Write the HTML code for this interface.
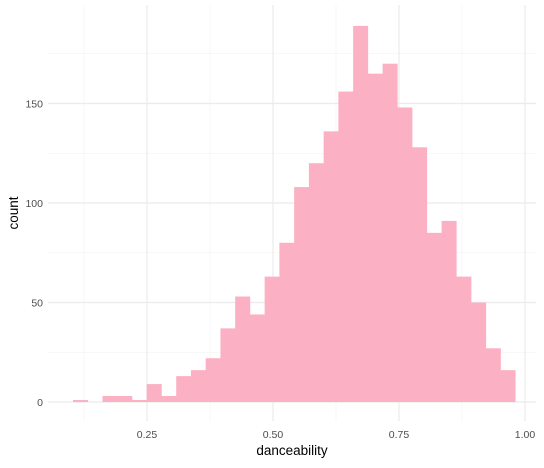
<!DOCTYPE html>
<html><head><meta charset="utf-8"><style>
body{margin:0;background:#fff;font-family:"Liberation Sans",sans-serif}
</style></head><body>
<svg id="chart" width="544" height="463" xmlns="http://www.w3.org/2000/svg" font-family="Liberation Sans, sans-serif"></svg>
<script>
const counts=[1,0,3,3,1,9,3,13,16,22,37,53,44,63,80,108,120,136,156,189,165,170,148,128,85,91,63,50,27,16];
const binStart=0.1032, binWidth=0.02925;
const xTicks=[0.25,0.5,0.75,1.0];
const xTickLabels=["0.25","0.50","0.75","1.00"];
const yTicks=[0,50,100,150];
const NS="http://www.w3.org/2000/svg";
const svg=document.getElementById('chart');
const X=v=>147+(v-0.25)*504;
const Y=v=>402-v*1.99;
const L=48,R=536,T=5,B=421;
function mk(t,a){const e=document.createElementNS(NS,t);for(const k in a)e.setAttribute(k,a[k]);svg.appendChild(e);return e;}
[0.125,0.375,0.625,0.875].forEach(v=>{const l=mk('line',{x1:X(v),x2:X(v),y1:T,y2:B,stroke:'#f2f2f2','stroke-width':0.6});
});
[25,75,125,175].forEach(v=>{const l=mk('line',{x1:L,x2:R,y1:Y(v),y2:Y(v),stroke:'#f2f2f2','stroke-width':0.6});
});
xTicks.forEach((v,i)=>{const l=mk('line',{x1:X(v),x2:X(v),y1:T,y2:B,stroke:'#ebebeb','stroke-width':1.2});

const t=mk('text',{x:X(v),y:438,'text-anchor':'middle','font-size':10.5,fill:'#4d4d4d'});t.textContent=xTickLabels[i];
});
yTicks.forEach(v=>{const l=mk('line',{x1:L,x2:R,y1:Y(v),y2:Y(v),stroke:'#ebebeb','stroke-width':1.2});

const t=mk('text',{x:43,y:Y(v)+4,'text-anchor':'end','font-size':10.5,fill:'#4d4d4d'});t.textContent=v;
});
counts.forEach((c,i)=>{if(!c)return;const x0=X(binStart+i*binWidth),x1=X(binStart+(i+1)*binWidth);
const r=mk('rect',{x:x0,y:Y(c),width:x1-x0+0.3,height:Y(0)-Y(c),fill:'#fbb1c3'});
});
const xt=mk('text',{x:292,y:455,'text-anchor':'middle','font-size':13.5,fill:'#000'});xt.textContent='danceability';

const yt=mk('text',{x:0,y:0,'text-anchor':'middle','font-size':13.5,fill:'#000',transform:'translate(18,213) rotate(-90)'});yt.textContent='count';

</script>
</body></html>
